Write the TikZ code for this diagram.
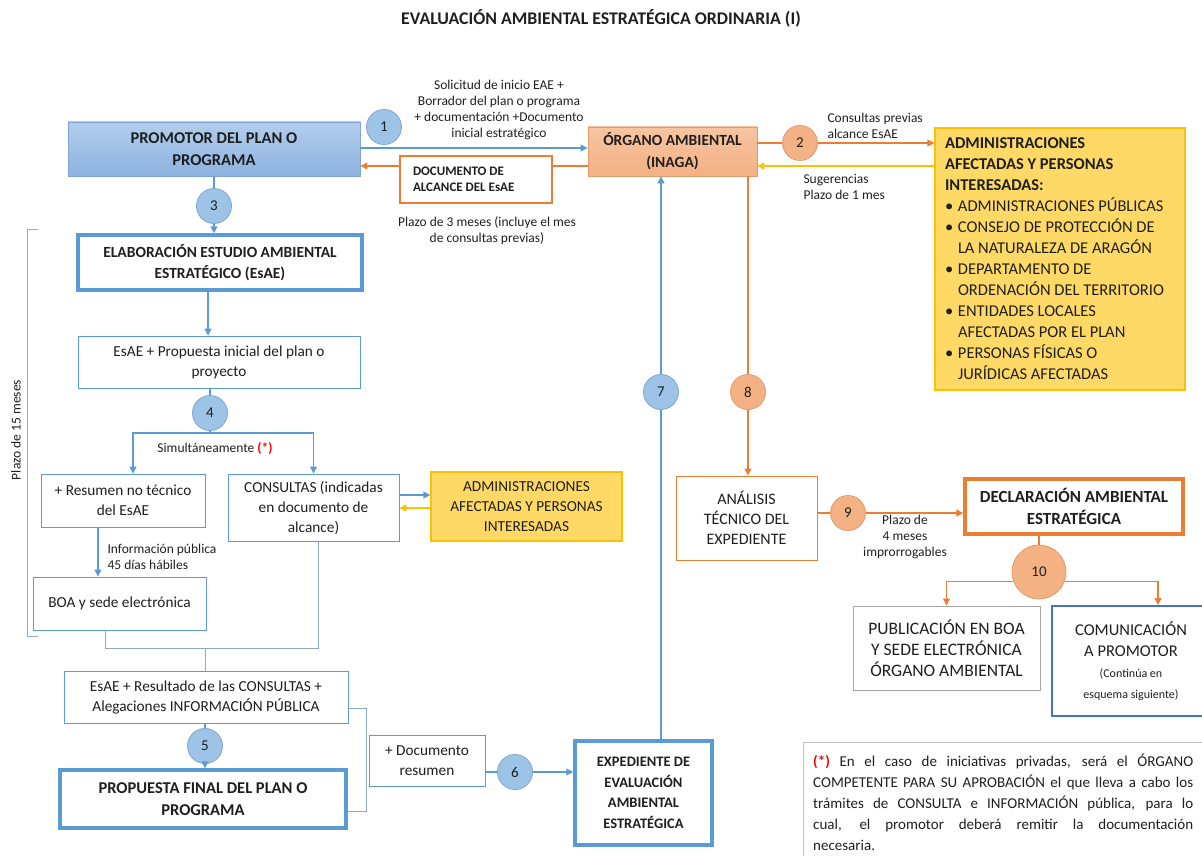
\documentclass[tikz,border=0pt]{standalone}
\usepackage{fontspec}
\setmainfont{Carlito}
\usetikzlibrary{arrows.meta}
\newcommand{\myfs}[2]{\fontsize{#1}{#2}\selectfont}
\definecolor{bl}{HTML}{5B9BD5}
\definecolor{blf}{HTML}{9DC3E6}
\definecolor{bld}{HTML}{7FA6D3}
\definecolor{orl}{HTML}{ED7D31}
\definecolor{sal}{HTML}{F4B183}
\definecolor{sald}{HTML}{E39A6E}
\definecolor{yel}{HTML}{FFC000}
\definecolor{yelf}{HTML}{FFD966}
\definecolor{grb}{HTML}{A6A6A6}
\definecolor{dblue}{HTML}{4472C4}
\definecolor{brk}{HTML}{8EA9C8}
\definecolor{txt}{HTML}{1F1F1F}
\definecolor{promt}{HTML}{B3CEEC}
\definecolor{promb}{HTML}{8CB2E0}
\begin{document}
\begin{tikzpicture}[x=1pt,y=-1pt,
  every node/.style={text=txt},
  ar/.style={-{Triangle[length=7pt,width=7pt]}},
  lnB/.style={draw=bl,line width=1.1pt},
  lnO/.style={draw=orl,line width=1.3pt},
  lnY/.style={draw=yel,line width=1.3pt},
  lnG/.style={draw=brk,line width=0.9pt},
  lbl/.style={font=\myfs{13.5}{16}},
  box/.style={inner sep=2pt,align=center},
  thinB/.style={box,draw=bl,line width=0.9pt,fill=white,font=\myfs{15.3}{20}},
  thickB/.style={box,draw=bl,line width=3.5pt,fill=white,font=\bfseries\myfs{15.5}{21}},
  circB/.style={circle,minimum size=35pt,inner sep=0pt,draw=bld,line width=0.8pt,fill=blf,font=\myfs{15}{15}},
  circO/.style={circle,minimum size=35pt,inner sep=0pt,draw=sald,line width=0.8pt,fill=sal,font=\myfs{15}{15}}
]
\useasboundingbox (0,0) rectangle (1202,856);

% title
\node[font=\bfseries\myfs{17.8}{20}] (title) at (601,18) {EVALUACIÓN AMBIENTAL ESTRATÉGICA ORDINARIA (I)};

% top row
\node[box,draw=bld,line width=0.8pt,top color=promt,bottom color=promb,font=\bfseries\myfs{16.5}{22},minimum width=292pt,minimum height=54pt] (prom) at (214,149) {PROMOTOR DEL PLAN O\\PROGRAMA};
\node[circB] (c1) at (384,127) {1};
\node[lbl,align=center] (l1) at (499,110) {Solicitud de inicio EAE +\\Borrador del plan o programa\\+ documentación +Documento\\inicial estratégico};
\node[box,draw=sald,line width=0.8pt,top color=sal!75,bottom color=sal,font=\bfseries\myfs{15.5}{22},minimum width=169pt,minimum height=49pt] (org) at (672.5,151.5) {ÓRGANO AMBIENTAL\\(INAGA)};

\draw[lnB,ar] ([yshift=1pt]prom.east) -- ([yshift=1pt]prom.east -| org.west);
\draw[lnO,ar] ([yshift=-14.5pt]org.west) -- ([yshift=-14.5pt]org.west -| prom.east);
\node[draw=orl,line width=2pt,fill=white,align=flush left,inner xsep=13pt,inner ysep=2pt,text width=126pt,font=\bfseries\myfs{13}{16.5},minimum height=46pt] (doc) at (476,179.5) {DOCUMENTO DE\\ALCANCE DEL EsAE};
\node[lbl,align=center] (l3m) at (487,231) {Plazo de 3 meses (incluye el mes\\de consultas previas)};

\node[draw=yel,line width=1.2pt,fill=yelf,align=flush left,inner xsep=10pt,text width=230pt,minimum height=262pt,font=\myfs{16.5}{21}] (adm) at (1060,259) {\textbf{ADMINISTRACIONES\\AFECTADAS Y PERSONAS\\INTERESADAS:}\\
\makebox[13pt][l]{\textbullet}ADMINISTRACIONES PÚBLICAS\\
\makebox[13pt][l]{\textbullet}CONSEJO DE PROTECCIÓN DE\\
\hspace*{13pt}LA NATURALEZA DE ARAGÓN\\
\makebox[13pt][l]{\textbullet}DEPARTAMENTO DE\\
\hspace*{13pt}ORDENACIÓN DEL TERRITORIO\\
\makebox[13pt][l]{\textbullet}ENTIDADES LOCALES\\
\hspace*{13pt}AFECTADAS POR EL PLAN\\
\makebox[13pt][l]{\textbullet}PERSONAS FÍSICAS O\\
\hspace*{13pt}JURÍDICAS AFECTADAS};
\node[circO] (c2) at (800,143) {2};
\draw[lnO] ([yshift=8.5pt]org.east) -- (c2);
\draw[lnO,ar] (c2) -- (c2 -| adm.west);
\draw[lnY,ar] ([yshift=-14.5pt]org.east -| adm.west) -- ([yshift=-14.5pt]org.east);
\node[lbl,anchor=west,align=left] (l2a) at (824,126) {Consultas previas\\alcance EsAE};
\node[lbl,anchor=west,align=left] (l2b) at (800,187) {Sugerencias\\Plazo de 1 mes};

% left column
\node[circB] (c3) at (214,206) {3};
\node[thickB,minimum width=284pt,minimum height=55pt] (elab) at (220,262.5) {ELABORACIÓN ESTUDIO AMBIENTAL\\ESTRATÉGICO (EsAE)};
\draw[lnB] (prom.south) -- (c3);
\draw[lnB,ar] (c3) -- (c3 |- elab.north);
\node[thinB,minimum width=282pt,minimum height=52pt] (prop) at (219,362) {EsAE + Propuesta inicial del plan o\\proyecto};
\draw[lnB,ar] ([xshift=-12pt]elab.south) -- ([xshift=-12pt]elab.south |- prop.north);
\node[circB] (c4) at (210,413) {4};
\draw[lnB] (prop.south -| c4) -- (c4);
\coordinate (j4) at (210,433);
\node[thinB,minimum width=164pt,minimum height=53pt] (res) at (123,500.5) {+ Resumen no técnico\\del EsAE};
\node[thinB,minimum width=171pt,minimum height=67pt] (cons) at (313.5,507.5) {CONSULTAS (indicadas\\en documento de\\alcance)};
\draw[lnB] (c4) -- (j4);
\draw[lnB,ar] (j4) -| ([xshift=10pt]res.north);
\draw[lnB,ar] (j4) -| (cons.north);
\node[lbl] (sim) at (215,449) {Simultáneamente \textcolor{red}{\textbf{(*)}}};
\node[box,draw=yel,line width=1.2pt,fill=yelf,font=\myfs{15.3}{20},minimum width=191pt,minimum height=69pt] (adm2) at (526.5,506.5) {ADMINISTRACIONES\\AFECTADAS Y PERSONAS\\INTERESADAS};
\draw[lnB,ar] ([yshift=12.5pt]cons.east) -- ([yshift=12.5pt]cons.east -| adm2.west);
\draw[lnY,ar] ([yshift=-0.5pt]cons.east -| adm2.west) -- ([yshift=-0.5pt]cons.east);
\node[thinB,minimum width=173pt,minimum height=53pt] (boa) at (119.5,603.5) {BOA y sede electrónica};
\draw[lnB,ar] ([xshift=-25pt]res.south) -- ([xshift=-25pt]res.south |- boa.north);
\node[lbl,anchor=west,align=left] (lip) at (104,557) {Información pública\\45 días hábiles};

% bracket 15 meses
\draw[lnG] (38,229) -- (27,229) -- (27,636) -- (38,636);
\node[lbl,rotate=90] (p15) at (16,430) {Plazo de 15 meses};

% merge
\node[thinB,minimum width=284pt,minimum height=52pt] (res2) at (206,697) {EsAE + Resultado de las CONSULTAS +\\Alegaciones INFORMACIÓN PÚBLICA};
\coordinate (mL) at (105,648);
\coordinate (mR) at (318,648);
\coordinate (mC) at (205,648);
\draw[lnG] (mL |- boa.south) -- (mL) -- (mR) -- (mR |- cons.south);
\draw[lnG] (mC) -- (mC |- res2.north);

\node[circB] (c5) at (205,746) {5};
\node[thickB,font=\bfseries\myfs{16.5}{22},minimum width=286pt,minimum height=58pt] (fin) at (203,799) {PROPUESTA FINAL DEL PLAN O\\PROGRAMA};
\draw[lnB] (res2.south -| c5) -- (c5);
\draw[lnB,ar] (c5) -- (c5 |- fin.north);
\draw[lnG] ([yshift=-11pt]res2.east) -- ++(18,0) |- ([yshift=-12pt]fin.east);
\node[thinB,minimum width=116pt,minimum height=51pt] (docres) at (427,760.5) {+ Documento\\resumen};

\node[circB] (c6) at (515,772) {6};
\node[thickB,font=\bfseries\myfs{14.5}{20.5},minimum width=137pt,minimum height=104pt] (exp) at (643.5,793) {EXPEDIENTE DE\\EVALUACIÓN\\AMBIENTAL\\ESTRATÉGICA};
\draw[lnB] (c6 -| docres.east) -- (c6);
\draw[lnB,ar] (c6) -- (c6 -| exp.west);

% 7 and 8
\node[circB] (c7) at (661,392) {7};
\draw[lnB] (c7 |- exp.north) -- (c7);
\draw[lnB,ar] (c7) -- (c7 |- org.south);
\node[circO] (c8) at (748,392) {8};
\node[box,draw=orl,line width=0.9pt,fill=white,font=\myfs{16}{20},minimum width=141pt,minimum height=84pt] (ana) at (746.5,518) {ANÁLISIS\\TÉCNICO DEL\\EXPEDIENTE};
\draw[lnO] (c8 |- org.south) -- (c8);
\draw[lnO,ar] (c8) -- (c8 |- ana.north);

% 9 and 10
\node[circO] (c9) at (848,513) {9};
\node[box,draw=orl,line width=3.5pt,fill=white,font=\bfseries\myfs{17}{22},minimum width=218pt,minimum height=55pt] (dec) at (1074,506.5) {DECLARACIÓN AMBIENTAL\\ESTRATÉGICA};
\draw[lnO] (c9 -| ana.east) -- (c9);
\draw[lnO,ar] (c9) -- (c9 -| dec.west);
\node[lbl,align=center] (l9) at (905,537) {Plazo de\\4 meses\\improrrogables};
\node[circO,minimum size=54pt] (c10) at (1039,572) {10};
\draw[lnO] (dec.south -| c10) -- (c10);
\node[box,draw=grb,line width=0.9pt,fill=white,font=\myfs{17.5}{21},minimum width=187pt,minimum height=84pt] (pub) at (946.5,648) {PUBLICACIÓN EN BOA\\Y SEDE ELECTRÓNICA\\ÓRGANO AMBIENTAL};
\node[box,draw=dblue,line width=2pt,fill=white,font=\myfs{16.5}{21},minimum width=158pt,minimum height=110pt] (com) at (1131,661) {COMUNICACIÓN\\A PROMOTOR\\{\myfs{12}{16}(Continúa en}\\{\myfs{12}{16}esquema siguiente)}};
\draw[lnO,ar] (c10.200) -| (pub.north);
\draw[lnO,ar] (c10.340) -| ([xshift=27pt]com.north);

% note
\node[anchor=north west,inner xsep=10pt,inner ysep=12pt,text width=380pt,align=justify,font=\myfs{15}{21}] (note) at (803,742) {\textcolor{red}{\textbf{(*)}} En el caso de iniciativas privadas, será el ÓRGANO\linebreak COMPETENTE PARA SU APROBACIÓN el que lleva a cabo los\linebreak trámites de CONSULTA e INFORMACIÓN pública, para lo\linebreak cual, el promotor deberá remitir la documentación\linebreak necesaria.};
\draw[draw=grb!70,line width=0.8pt] ([xshift=20pt]note.north east) -- (note.north west) -- ([yshift=-20pt]note.south west);
\end{tikzpicture}
\end{document}
